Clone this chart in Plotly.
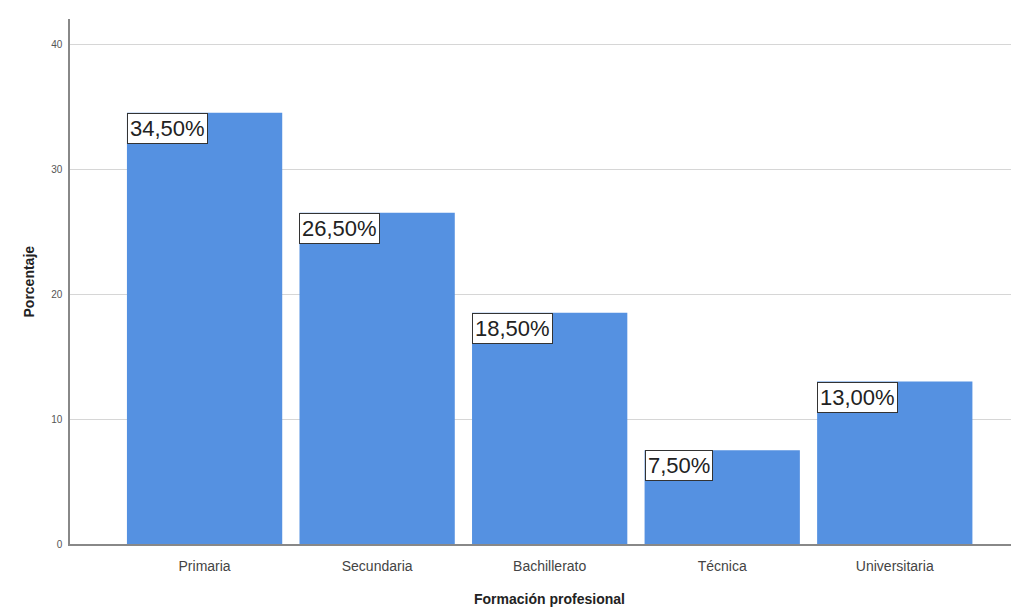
import plotly.graph_objects as go

categories = ["Primaria", "Secundaria", "Bachillerato", "Técnica", "Universitaria"]
percentages = [34.5, 26.5, 18.5, 7.5, 13.0]
labels = ["34,50%", "26,50%", "18,50%", "7,50%", "13,00%"]
y_ticks = [0, 10, 20, 30, 40]

bar_width = 0.9

fig = go.Figure(go.Bar(
    x=list(range(len(categories))),
    y=percentages,
    width=bar_width,
    marker=dict(color="#5591E1", line=dict(width=0)),
    hoverinfo="skip",
))

for i, (v, t) in enumerate(zip(percentages, labels)):
    fig.add_annotation(
        x=i - bar_width / 2, y=v, xref="x", yref="y",
        text=t, showarrow=False, xanchor="left", yanchor="top",
        font=dict(family="Arial, Liberation Sans", size=22, color="#222"),
        bgcolor="white", bordercolor="#333", borderwidth=1, borderpad=2,
    )

# page body has an 8px margin; plot area targeted at x 70..1019, y 19..544
plot_w = 949
plot_h = 525
fig.add_annotation(
    x=(18 - 70) / plot_w, y=0.5, xref="paper", yref="paper", text="<b>Porcentaje</b>",
    showarrow=False, textangle=-90,
    font=dict(family="Arial, Liberation Sans", size=14, color="#222"),
)
fig.add_annotation(
    x=(549.5 - 70) / plot_w, y=-(599 - 544) / plot_h, xref="paper", yref="paper",
    text="<b>Formación profesional</b>", showarrow=False, yanchor="middle",
    font=dict(family="Arial, Liberation Sans", size=14, color="#222"),
)

fig.update_layout(
    width=1011, height=605,
    margin=dict(l=62, r=0, t=11, b=69),
    plot_bgcolor="white", paper_bgcolor="white",
    showlegend=False,
    xaxis=dict(
        range=[-0.78, 4.72],
        tickmode="array", tickvals=list(range(len(categories))), ticktext=categories,
        showgrid=False, showline=True, linecolor="#888", linewidth=1.5,
        ticks="", ticklabelstandoff=8,
        tickfont=dict(family="Arial, Liberation Sans", size=14, color="#444"),
        zeroline=False, automargin=False,
    ),
    yaxis=dict(
        range=[0, 42],
        tickmode="array", tickvals=y_ticks,
        showgrid=True, gridcolor="#d6d6d6", gridwidth=1,
        showline=True, linecolor="#888", linewidth=1.5,
        ticks="", ticklabelstandoff=4,
        tickfont=dict(family="Arial, Liberation Sans", size=10, color="#555"),
        zeroline=False, automargin=False,
    ),
)

fig.write_html("out.html")
